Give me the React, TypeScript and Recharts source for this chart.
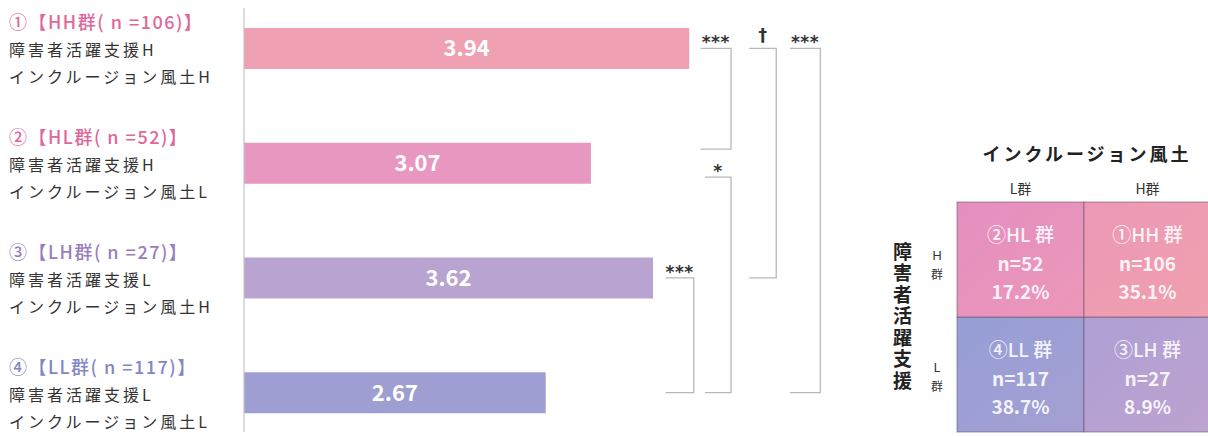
import React from 'react';
import { BarChart, Bar, XAxis, YAxis, LabelList, ReferenceLine, Cell } from 'recharts';

const groups = ['HH', 'HL', 'LH', 'LL'];
const groupTitles = ['①【HH群( n =106)】', '②【HL群( n =52)】', '③【LH群( n =27)】', '④【LL群( n =117)】'];
const supportLines = ['障害者活躍支援H', '障害者活躍支援H', '障害者活躍支援L', '障害者活躍支援L'];
const climateLines = ['インクルージョン風土H', 'インクルージョン風土L', 'インクルージョン風土H', 'インクルージョン風土L'];
const means = [3.94, 3.07, 3.62, 2.67];
const counts = [106, 52, 27, 117];
const shares = ['35.1%', '17.2%', '8.9%', '38.7%'];
const cellTitles = ['①HH 群', '②HL 群', '③LH 群', '④LL 群'];

const matrixCols = ['L群', 'H群'];
const matrixRows = ['H群', 'L群'];
const matrixTitle = 'インクルージョン風土';
const rowTitle = '障害者活躍支援';

// significance brackets (x in score units)
const tests = [
  { from: 'HH', to: 'HL', mark: '***', x0: 4.04, x1: 4.31, trimEnd: 14 },
  { from: 'HL', to: 'LL', mark: '*', x0: 4.08, x1: 4.31, trimStart: 14 },
  { from: 'LH', to: 'LL', mark: '***', x0: 3.73, x1: 3.98 },
  { from: 'HH', to: 'LH', mark: '†', x0: 4.47, x1: 4.71 },
  { from: 'HH', to: 'LL', mark: '***', x0: 4.83, x1: 5.1 },
];

const JP = '"Noto Sans CJK JP", "Noto Sans", sans-serif';
const barColors = ['#efa0b2', '#e897c0', '#b9a3d0', '#9e9ed2'];
const headColors = ['#e0679b', '#e0679b', '#9a7dbc', '#7f86c9'];
const cellGrad: Record<string, [string, string]> = {
  HH: ['#ec98b7', '#f0a0ad'],
  HL: ['#e48fc0', '#ec97b8'],
  LH: ['#ae9fd4', '#bda3d0'],
  LL: ['#969fd6', '#a59fd2'],
};

const data = groups.map((g, i) => ({ group: g, mean: means[i] }));

const matrixData = matrixCols.map((c) => ({
  col: c,
  lower: 1,
  upper: 1,
  upperIdx: groups.indexOf(matrixRows[0][0] + c[0]),
  lowerIdx: groups.indexOf(matrixRows[1][0] + c[0]),
}));

function GroupTick({ y, payload }: any) {
  const i = groups.indexOf(payload.value);
  return (
    <g>
      <text x={9} y={y - 27} dominantBaseline="central" fontSize={18} fontWeight={500} letterSpacing={1.5} fill={headColors[i]} fontFamily={JP}>
        {groupTitles[i]}
      </text>
      <text x={9} y={y + 1} dominantBaseline="central" fontSize={16} fill="#333" letterSpacing={3} fontFamily={JP}>
        {supportLines[i]}
      </text>
      <text x={9} y={y + 28} dominantBaseline="central" fontSize={16} fill="#333" letterSpacing={3} fontFamily={JP}>
        {climateLines[i]}
      </text>
    </g>
  );
}

function AxisShape(p: any) {
  const top = Math.min(p.y1, p.y2);
  const bottom = Math.max(p.y1, p.y2);
  return <line x1={p.x1} x2={p.x2} y1={top + 17} y2={bottom - 18} stroke="#c4c4c4" strokeWidth={1.2} />;
}

function Bracket({ x1, y1, x2, y2, t }: any) {
  const top = y1 + (t.trimStart ?? 0);
  const bottom = y2 - (t.trimEnd ?? 0);
  const dagger = t.mark === '†';
  return (
    <g>
      <path d={`M${x1},${top}H${x2}V${bottom}H${x1}`} fill="none" stroke="#b8b8b8" strokeWidth={1.3} />
      <text
        x={(x1 + x2) / 2}
        y={top - (dagger ? 7 : 0)}
        textAnchor="middle"
        fontSize={17}
        fontWeight={700}
        letterSpacing={dagger ? 0 : 0.5}
        fill="#333"
        fontFamily="DejaVu Sans"
      >
        {t.mark}
      </text>
    </g>
  );
}

function MatrixCell({ x, y, width, height, gi }: any) {
  const g = groups[gi];
  const cx = x + width / 2;
  const cy = y + height / 2;
  const txt = { textAnchor: 'middle' as const, dominantBaseline: 'central' as const, fontSize: 19, fontWeight: 700, fill: 'rgba(255,255,255,0.9)', fontFamily: JP };
  return (
    <g>
      <rect x={x} y={y} width={width} height={height} fill={`url(#cell-${g})`} stroke="rgba(95,75,95,0.55)" strokeWidth={1} />
      <text x={cx} y={cy - 26.5} {...txt} fontWeight={500}>{cellTitles[gi]}</text>
      <text x={cx} y={cy + 2.5} {...txt}>{`n=${counts[gi]}`}</text>
      <text x={cx} y={cy + 30.5} {...txt}>{shares[gi]}</text>
    </g>
  );
}

export default function App() {
  return (
    <div style={{ position: 'absolute', left: 0, top: 0, width: 1208, height: 436, overflow: 'hidden', background: '#fff' }}>
      <div style={{ position: 'absolute', left: 0, top: -9 }}>
        <BarChart width={1208} height={459} data={data} layout="vertical" margin={{ top: 0, right: 286, bottom: 0, left: 0 }}>
          <XAxis type="number" domain={[0, 6]} hide />
          <YAxis
            type="category"
            dataKey="group"
            width={244}
            axisLine={false}
            tickLine={false}
            interval={0}
            tick={(p: any) => <GroupTick {...p} />}
          />
          <ReferenceLine x={0} ifOverflow="visible" shape={AxisShape} />
          <Bar dataKey="mean" barSize={41} isAnimationActive={false}>
            {data.map((d, i) => (
              <Cell key={d.group} fill={barColors[i]} />
            ))}
            <LabelList dataKey="mean" position="center" fill="#fff" fontSize={22} fontWeight={700} fontFamily={JP} />
          </Bar>
          {tests.map((t) => (
            <ReferenceLine
              key={t.from + t.to}
              segment={[{ x: t.x0, y: t.from }, { x: t.x1, y: t.to }]}
              ifOverflow="visible"
              shape={(p: any) => <Bracket {...p} t={t} />}
            />
          ))}
        </BarChart>
      </div>

      <div style={{ position: 'absolute', left: 937, top: 140, width: 300, textAlign: 'center', fontSize: 18, fontWeight: 700, letterSpacing: 3, color: '#222', fontFamily: JP, lineHeight: '26px' }}>
        {matrixTitle}
      </div>
      <svg style={{ position: 'absolute', left: 917, top: 230 }} width={40} height={170}>
        {matrixRows.map((r, i) => (
          <g key={r}>
            <text x={20} y={25 + i * 112} textAnchor="middle" dominantBaseline="central" fontSize={13} fill="#333" fontFamily="Noto Sans">
              {r[0]}
            </text>
            <text x={20} y={43 + i * 112} textAnchor="middle" dominantBaseline="central" fontSize={12} fill="#333" fontFamily={JP}>
              {r.slice(1)}
            </text>
          </g>
        ))}
      </svg>
      <div style={{ position: 'absolute', left: 892, top: 242, writingMode: 'vertical-rl', fontSize: 19, fontWeight: 700, letterSpacing: 2.5, color: '#222', fontFamily: JP, lineHeight: '20px' }}>
        {rowTitle}
      </div>

      <div style={{ position: 'absolute', left: 850, top: 130 }}>
        <BarChart width={363} height={306} data={matrixData} margin={{ top: 42, right: 2, bottom: 4, left: 107 }} barCategoryGap={0}>
          <defs>
            {groups.map((g) => (
              <linearGradient key={g} id={`cell-${g}`} x1="0" y1="0" x2="1" y2="1">
                <stop offset="0%" stopColor={cellGrad[g][0]} />
                <stop offset="100%" stopColor={cellGrad[g][1]} />
              </linearGradient>
            ))}
          </defs>
          <XAxis
            dataKey="col"
            orientation="top"
            axisLine={false}
            tickLine={false}
            height={30}
            interval={0}
            tick={{ fontSize: 14, fill: '#333', fontFamily: JP }}
          />
          <YAxis type="number" domain={[0, 2]} hide />
          <Bar dataKey="lower" stackId="m" isAnimationActive={false} shape={(p: any) => <MatrixCell {...p} gi={p.payload.lowerIdx} />} />
          <Bar dataKey="upper" stackId="m" isAnimationActive={false} shape={(p: any) => <MatrixCell {...p} gi={p.payload.upperIdx} />} />
        </BarChart>
      </div>
    </div>
  );
}
